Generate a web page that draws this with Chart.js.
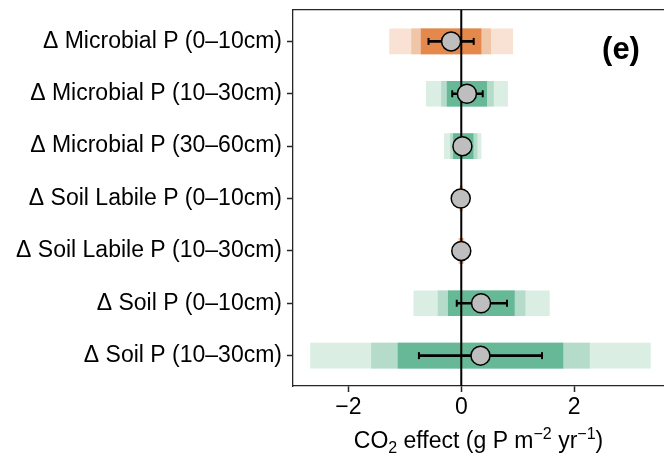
<!DOCTYPE html>
<html>
<head>
<meta charset="utf-8">
<script src="https://cdn.jsdelivr.net/npm/chart.js@4.4.1/dist/chart.umd.min.js"></script>
<style>
html,body{margin:0;padding:0;background:#fff;}
#wrap{width:664px;height:454px;position:relative;}
</style>
</head>
<body>
<div id="wrap"><canvas id="c"></canvas></div>
<script>
// ---- data ----
const categories = [
  'Δ Microbial P (0–10cm)',
  'Δ Microbial P (10–30cm)',
  'Δ Microbial P (30–60cm)',
  'Δ Soil Labile P (0–10cm)',
  'Δ Soil Labile P (10–30cm)',
  'Δ Soil P (0–10cm)',
  'Δ Soil P (10–30cm)'
];
const rowSign = ['neg', 'pos', 'pos', 'neg', 'neg', 'pos', 'pos'];
const outerLo = [-1.27, -0.62, -0.30, -0.03, -0.05, -0.84, -2.67];
const outerHi = [ 0.91,  0.82,  0.35,  0.02,  0.05,  1.56,  3.35];
const midLo   = [-0.88, -0.35, -0.19, -0.02, -0.03, -0.41, -1.59];
const midHi   = [ 0.52,  0.57,  0.28,  0.015, 0.035, 1.13,  2.27];
const innerLo = [-0.71, -0.25, -0.14, -0.015,-0.02, -0.23, -1.12];
const innerHi = [ 0.35,  0.45,  0.21,  0.01,  0.025, 0.94,  1.80];
const estimate = [-0.18, 0.10,  0.02, -0.01,  0.00,  0.35,  0.34];
const errLo   = [-0.58, -0.16, -0.08, -0.02, -0.02, -0.08, -0.75];
const errHi   = [ 0.22,  0.38,  0.12,  0.01,  0.02,  0.81,  1.43];
const xTickValues = [-2, 0, 2];
const xTitleParts = [
  {t: 'CO', s: 0}, {t: '2', s: -1}, {t: ' effect (g P m', s: 0},
  {t: '−2', s: 1}, {t: ' yr', s: 0}, {t: '−1', s: 1}, {t: ')', s: 0}
];
const panelLabel = '(e)';

// ---- styles ----
const FONT = "'Liberation Sans', Arial, Helvetica, sans-serif";
const palette = {
  neg: ['#F9E1D3', '#F0C6A8', '#E4894B'],
  pos: ['#DAEEE4', '#B5DCCB', '#66B896']
};
const AXIS = '#262626';

function bandData(lo, hi) {
  return categories.map((c, i) => ({y: i, x: [lo[i], hi[i]]}));
}
function bandColors(level) {
  return rowSign.map(s => palette[s][level]);
}

const overlay = {
  id: 'overlay',
  afterDraw(chart) {
    const {ctx, chartArea} = chart;
    ctx.save();
    const big = 23, small = 16;
    let total = 0;
    const pieces = xTitleParts.map(p => {
      ctx.font = (p.s ? small : big) + 'px ' + FONT;
      const w = ctx.measureText(p.t).width;
      total += w;
      return {p, w};
    });
    let x = (chartArea.left + chartArea.right) / 2 - total / 2;
    const yBase = 448;
    ctx.fillStyle = '#000';
    ctx.textBaseline = 'alphabetic';
    ctx.textAlign = 'left';
    pieces.forEach(({p, w}) => {
      ctx.font = (p.s ? small : big) + 'px ' + FONT;
      const dy = p.s === -1 ? 5 : (p.s === 1 ? -9 : 0);
      ctx.fillText(p.t, x, yBase + dy);
      x += w;
    });
    ctx.font = 'bold 31px ' + FONT;
    ctx.textAlign = 'center';
    ctx.textBaseline = 'middle';
    ctx.fillText(panelLabel, 621, 50);
    ctx.restore();
  }
};

new Chart(document.getElementById('c'), {
  data: {
    datasets: [
      {type: 'bar', indexAxis: 'y', data: bandData(outerLo, outerHi), backgroundColor: bandColors(0),
       barThickness: 25, grouped: false, order: 6},
      {type: 'bar', indexAxis: 'y', data: bandData(midLo, midHi), backgroundColor: bandColors(1),
       barThickness: 25, grouped: false, order: 5},
      {type: 'bar', indexAxis: 'y', data: bandData(innerLo, innerHi), backgroundColor: bandColors(2),
       barThickness: 25, grouped: false, order: 4},
      {type: 'line', data: [{x: 0, y: -0.6}, {x: 0, y: 6.6}], borderColor: '#000', borderWidth: 2,
       pointRadius: 0, order: 3},
      {type: 'bar', indexAxis: 'y', data: bandData(errLo, errHi), backgroundColor: '#000',
       barThickness: 2, grouped: false, order: 2},
      {type: 'scatter', data: categories.flatMap((c, i) => [{x: errLo[i], y: i}, {x: errHi[i], y: i}]),
       pointStyle: 'line', rotation: 90, pointRadius: 3.5, borderColor: '#000', borderWidth: 2, order: 1},
      {type: 'scatter', data: categories.map((c, i) => ({x: estimate[i], y: i})),
       pointRadius: 9.5, backgroundColor: '#BEBEBE', borderColor: '#000', borderWidth: 1.5, order: 0}
    ]
  },
  options: {
    responsive: true,
    maintainAspectRatio: false,
    animation: false,
    events: [],
    layout: {autoPadding: false, padding: {top: 10, right: 0, left: 0, bottom: 0}},
    plugins: {legend: {display: false}, tooltip: {enabled: false}},
    scales: {
      x: {
        type: 'linear', position: 'bottom', min: -2.98, max: 3.59, offset: false,
        afterBuildTicks: s => { s.ticks = xTickValues.map(v => ({value: v})); },
        afterFit: s => { s.height = 68; s.paddingLeft = 0; s.paddingRight = 0; },
        grid: {display: true, offset: false, drawOnChartArea: false, drawTicks: true, tickLength: 6, tickColor: AXIS, tickWidth: 1.5},
        border: {display: true, color: AXIS, width: 1.3},
        ticks: {padding: 2, color: '#000', font: {family: FONT, size: 23},
                callback: v => (v < 0 ? '−' + Math.abs(v) : String(v)), maxRotation: 0}
      },
      x2: {
        type: 'linear', position: 'top', min: -2.98, max: 3.59, display: true,
        afterFit: s => { s.height = 0; s.paddingLeft = 0; s.paddingRight = 0; },
        grid: {display: false},
        border: {display: true, color: AXIS, width: 1.3},
        ticks: {display: false}
      },
      y: {
        type: 'linear', position: 'left', min: -0.6, max: 6.58, reverse: true, offset: false,
        afterBuildTicks: s => { s.ticks = categories.map((c, i) => ({value: i})); },
        afterFit: s => { s.width = 293; s.paddingTop = 0; s.paddingBottom = 0; },
        grid: {display: true, offset: false, drawOnChartArea: false, drawTicks: true, tickLength: 6, tickColor: AXIS, tickWidth: 1.5},
        border: {display: true, color: AXIS, width: 1.3},
        ticks: {padding: 5, color: '#000', font: {family: FONT, size: 23},
                callback: v => categories[v]}
      }
    }
  },
  plugins: [overlay]
});
</script>
</body>
</html>
